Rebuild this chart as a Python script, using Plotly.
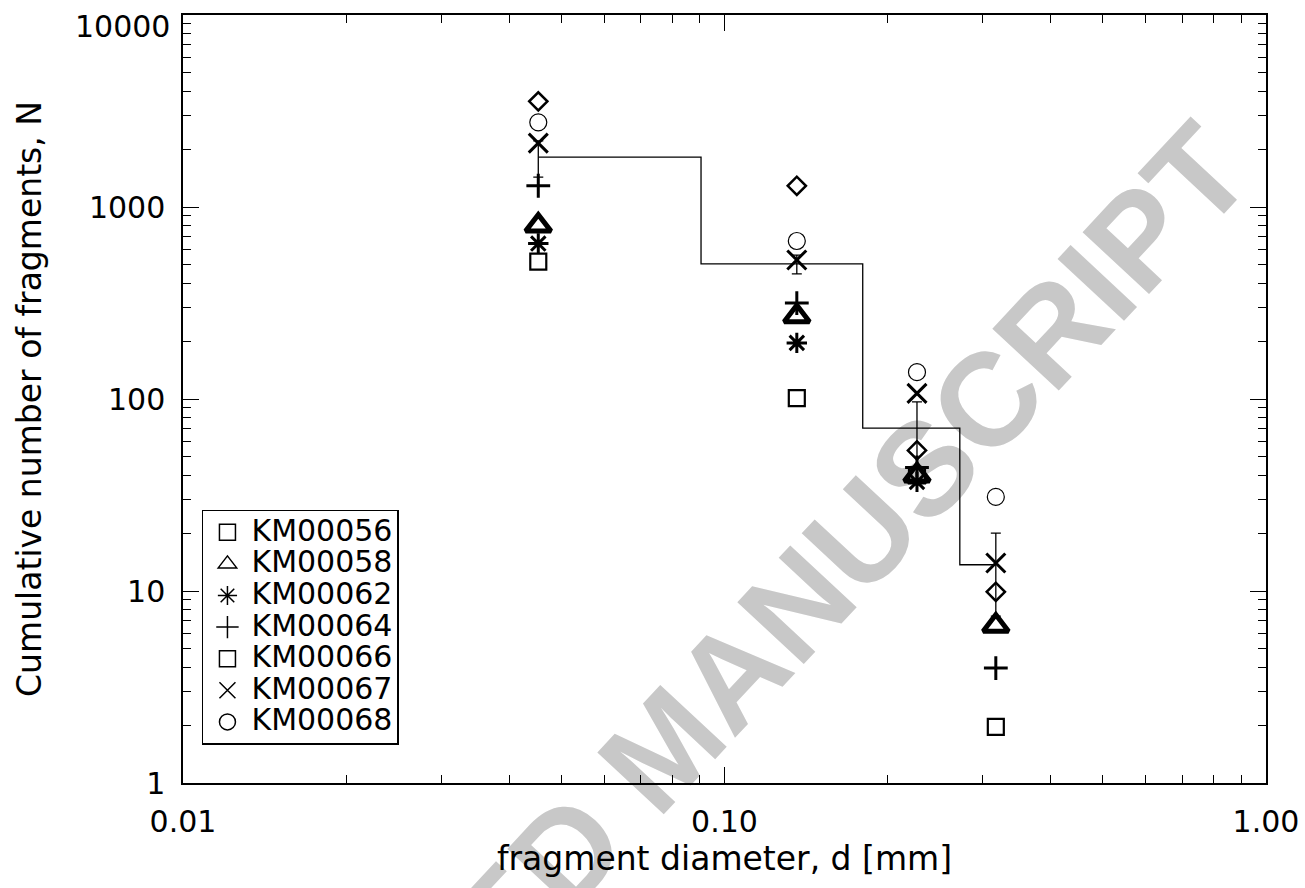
import math
import plotly.graph_objects as go

# ---------------- data ----------------
diam = [0.0453, 0.136, 0.2267, 0.317]          # fragment diameter [mm]
samples = ["KM00056", "KM00058", "KM00062", "KM00064", "KM00066", "KM00067", "KM00068"]
n_km00056 = [520, 101, 40, 1.96]
n_km00058 = [800, 270, 40, 6.6]
n_km00062 = [645, 196, 37, None]
n_km00064 = [1290, 316, 44, 3.97]
n_km00066 = [3550, 1290, 54, 9.9]
n_km00067 = [2150, 530, 107, 14.0]
n_km00068 = [2760, 665, 138, 30.9]

mean_edges = [0.0453, 0.0905, 0.180, 0.272, 0.317]
mean_n = [1820, 505, 70.6, 13.7, 13.7]
mean_at_diam = [1820, 505, 70.6, 13.7]
mean_err = [390, 57, 26, 6.3]

x_tickvals = [0.01, 0.1, 1.0]
x_ticktext = ["0.01", "0.10", "1.00"]
y_tickvals = [1, 10, 100, 1000, 10000]
y_ticktext = ["1", "10", "100", "1000", "10000"]

# ---------------- styles ----------------
data_sym = {
    "KM00056": dict(symbol="square-open", size=16, line=dict(width=2.2, color="black")),
    "KM00058": dict(symbol="triangle-up-open", size=22, line=dict(width=5, color="black")),
    "KM00062": dict(symbol="asterisk-open", size=17, line=dict(width=3, color="black")),
    "KM00064": dict(symbol="cross-thin-open", size=17, line=dict(width=3, color="black")),
    "KM00066": dict(symbol="diamond-open", size=14, line=dict(width=2.5, color="black")),
    "KM00067": dict(symbol="x-thin-open", size=19, line=dict(width=3, color="black")),
    "KM00068": dict(symbol="circle-open", size=17, line=dict(width=1.2, color="black")),
}
legend_sym = {
    "KM00056": "square-open",
    "KM00058": "triangle-up-open",
    "KM00062": "asterisk-open",
    "KM00064": "cross-thin-open",
    "KM00066": "square-open",
    "KM00067": "x-thin-open",
    "KM00068": "circle-open",
}
values = [n_km00056, n_km00058, n_km00062, n_km00064, n_km00066, n_km00067, n_km00068]

fig = go.Figure()

# mean step line
fig.add_trace(go.Scatter(x=mean_edges, y=mean_n, mode="lines", line_shape="hv",
                         line=dict(color="black", width=1.3), showlegend=False, hoverinfo="skip"))
# error bars on mean
fig.add_trace(go.Scatter(x=diam, y=mean_at_diam, mode="markers",
                         marker=dict(size=1, color="rgba(0,0,0,0)"),
                         error_y=dict(type="data", array=mean_err, color="black", thickness=1.3, width=5),
                         showlegend=False, hoverinfo="skip"))

for name, vals in zip(samples, values):
    fig.add_trace(go.Scatter(x=diam, y=vals, mode="markers", name=name,
                             marker=dict(color="black", **data_sym[name]), showlegend=False))

for name in samples:
    fig.add_trace(go.Scatter(x=[None], y=[None], mode="markers",
                             name=f"<span style='font-size:30px'>{name}</span>",
                             marker=dict(symbol=legend_sym[name], size=16, color="black",
                                         line=dict(width=1.5, color="black")),
                             showlegend=True))

tick_font = dict(family="DejaVu Sans", size=30, color="black")
axis_common = dict(
    type="log", showline=True, linecolor="black", linewidth=1.5, mirror="allticks",
    ticks="inside", ticklen=16, tickwidth=1.3, tickcolor="black", showgrid=False, zeroline=False,
    tickfont=tick_font, ticklabeloverflow="allow",
    minor=dict(ticks="inside", ticklen=8, tickwidth=1.2, tickcolor="black", dtick="D1", showgrid=False),
)

# top y label is drawn slightly below its tick (inside the page), as in the original
y_ticktext_axis = y_ticktext[:-1] + [""]

fig.update_xaxes(range=[-2, 0], tickvals=x_tickvals, ticktext=x_ticktext, ticklabelstandoff=11,
                 title=dict(text="fragment diameter, d [mm]", standoff=0,
                            font=dict(family="DejaVu Sans", size=33, color="black")),
                 **axis_common)
fig.update_yaxes(range=[0, 4], tickvals=y_tickvals, ticktext=y_ticktext_axis, ticklabelstandoff=10,
                 title=dict(text="Cumulative number of fragments, N", standoff=37,
                            font=dict(family="DejaVu Sans", size=33, color="black")),
                 **axis_common)

fig.add_annotation(x=0, xref="paper", y=math.log10(y_tickvals[-1]), yref="y",
                   text=y_ticktext[-1], showarrow=False, xanchor="right", yanchor="middle",
                   xshift=-11, yshift=-11, font=tick_font)

# watermark
cx, cy = 0.4358, 0.0586
fig.add_shape(type="rect", xref="paper", yref="paper", x0=cx - 0.01, x1=cx + 0.01,
              y0=cy - 0.01, y1=cy + 0.01, line=dict(width=0), fillcolor="rgba(0,0,0,0)",
              layer="below",
              label=dict(text="ACCEPTED MANUSCRIPT", textangle=-47, textposition="middle center",
                         font=dict(family="Liberation Sans", size=132, color="#c8c8c8", weight="bold")))

fig.update_layout(
    width=1305, height=888,
    margin=dict(l=183, r=39, t=15, b=105, autoexpand=False),
    paper_bgcolor="white", plot_bgcolor="white",
    legend=dict(x=0.0175, y=0.3555, xanchor="left", yanchor="top", bgcolor="white",
                bordercolor="black", borderwidth=1.5,
                font=dict(family="DejaVu Sans", size=22, color="black"),
                itemsizing="trace", itemwidth=38),
)

fig.write_html("out.html")
